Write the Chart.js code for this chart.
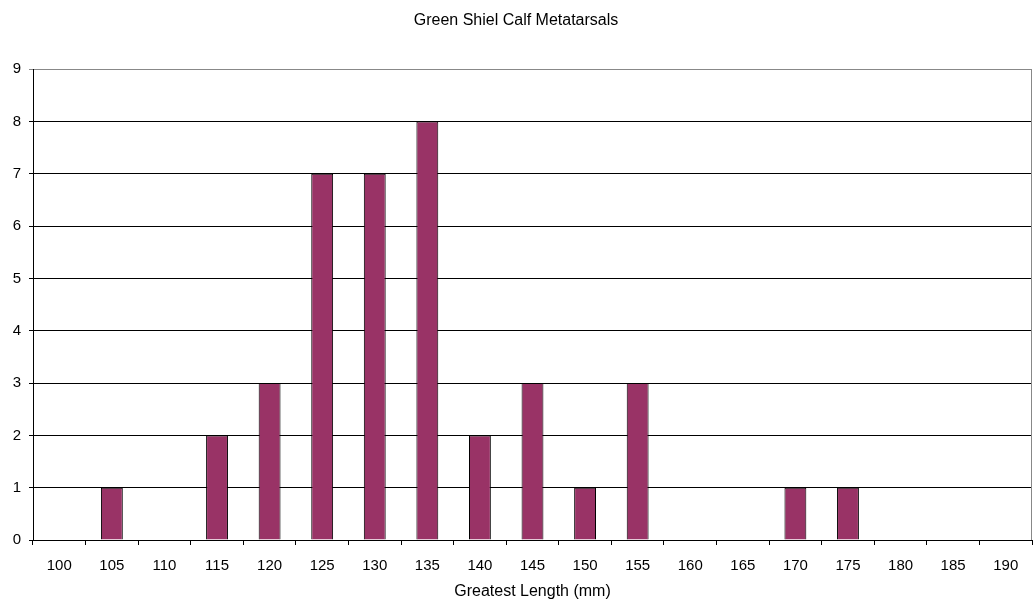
<!DOCTYPE html>
<html>
<head>
<meta charset="utf-8">
<script src="https://cdn.jsdelivr.net/npm/chart.js@4/dist/chart.umd.min.js"></script>
<style>
  html, body { margin: 0; padding: 0; background: #fff; }
  #wrap { width: 1033px; height: 606px; }
</style>
</head>
<body>
<div id="wrap"><canvas id="plot"></canvas></div>
<script>
const lengths = ['100','105','110','115','120','125','130','135','140','145','150','155','160','165','170','175','180','185','190'];
const counts = [0,1,0,2,3,7,7,8,2,3,1,3,0,0,1,1,0,0,0];
const yTicks = [0,1,2,3,4,5,6,7,8,9];

const FONT = 'Liberation Sans, Arial, sans-serif';

// thin grey line on the right edge of the plot area
const frameRight = {
  id: 'frameRight',
  afterDraw(chart) {
    const a = chart.chartArea, c = chart.ctx;
    c.save();
    c.strokeStyle = '#888';
    c.lineWidth = 1;
    c.beginPath();
    c.moveTo(Math.round(a.right) - 0.5, a.top);
    c.lineTo(Math.round(a.right) - 0.5, a.bottom);
    c.stroke();
    c.restore();
  }
};

function init(){
  const data = {
    labels: lengths,
    datasets: [{
      label: 'Count',
      data: counts,
      backgroundColor: '#993366',
      borderColor: '#000',
      borderWidth: 1,
      barPercentage: 0.8,
      categoryPercentage: 0.52
    }]
  };
  const config = {
    type: 'bar',
    data: data,
    options: {
      responsive: true,
      maintainAspectRatio: false,
      animation: false,
      layout: { padding: { left: 0, right: 1, top: 0, bottom: 5 } },
      plugins: {
        legend: { display: false },
        tooltip: { enabled: false },
        title: {
          display: true,
          text: 'Green Shiel Calf Metatarsals',
          color: '#000',
          font: { family: FONT, size: 16, weight: 'normal' },
          padding: { top: 11, bottom: 39 }
        }
      },
      scales: {
        x: {
          afterFit(axis) { axis.height = 61; },
          grid: { drawOnChartArea: false, drawTicks: true, tickLength: 5, color: '#000', offset: true },
          border: { color: '#000' },
          ticks: { color: '#000', font: { family: FONT, size: 15 }, maxRotation: 0, autoSkip: false, padding: 12 },
          title: {
            display: true,
            text: 'Greatest Length (mm)',
            color: '#000',
            font: { family: FONT, size: 16 },
            padding: { top: 7, bottom: 0 }
          }
        },
        y: {
          min: 0,
          max: 9,
          afterBuildTicks(axis) { axis.ticks = yTicks.map(v => ({ value: v })); },
          afterFit(axis) { axis.width = 33; },
          grid: {
            color: ctx => (ctx.tick && ctx.tick.value === 9) ? '#888' : '#000',
            tickLength: 4
          },
          border: { color: '#000' },
          ticks: { color: '#000', font: { family: FONT, size: 15 }, padding: 8 }
        }
      }
    },
    plugins: [frameRight]
  };
  let ctx = document.getElementById('plot').getContext('2d');
  new Chart(ctx, config);
}

init();
</script>
</body>
</html>
